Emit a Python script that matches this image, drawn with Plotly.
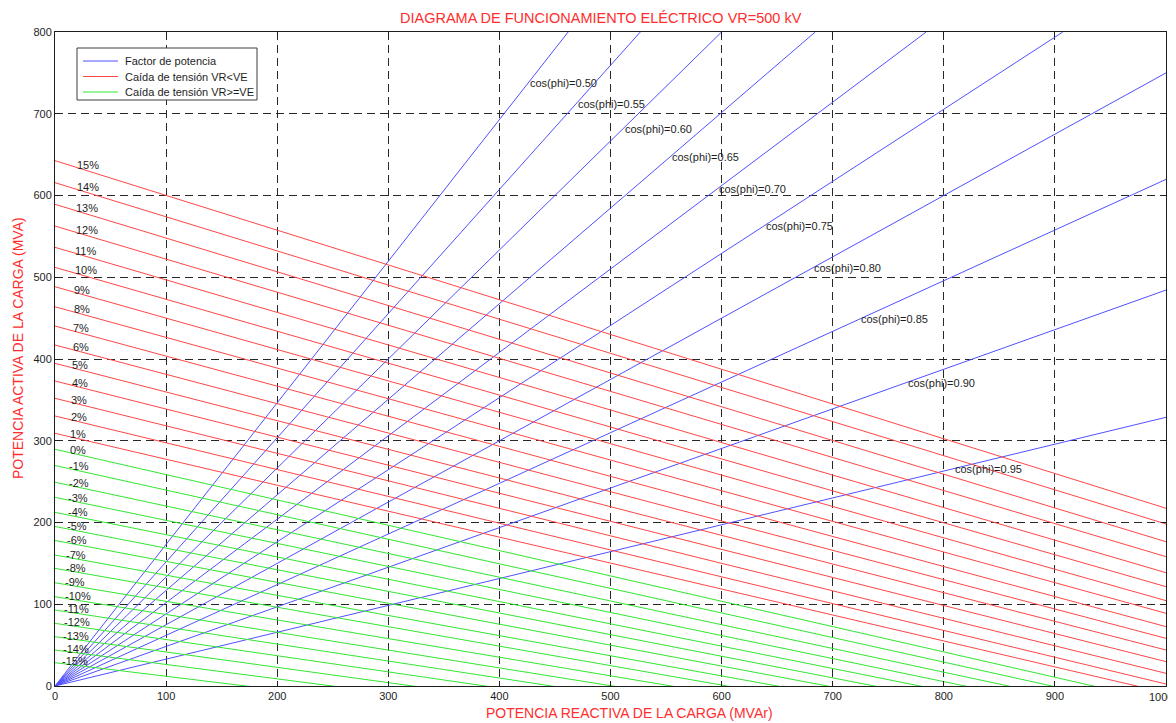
import numpy as np
import plotly.graph_objects as go

# ---------------- data ----------------
cos_phi = [0.50, 0.55, 0.60, 0.65, 0.70, 0.75, 0.80, 0.85, 0.90, 0.95]

drop_pct = [15, 14, 13, 12, 11, 10, 9, 8, 7, 6, 5, 4, 3, 2, 1, 0,
            -1, -2, -3, -4, -5, -6, -7, -8, -9, -10, -11, -12, -13, -14, -15]
# active power (MVA) of each voltage-drop line at Q = 0 MVAr
p_at_q0 = [642.6, 615.7, 589.2, 562.6, 536.6, 512.1, 488.4, 463.9, 440.3, 417.1,
           394.7, 373.1, 351.9, 330.3, 309.1, 289.6,
           269.7, 249.2, 230.8, 212.4, 195.1, 178.0, 160.2, 143.9, 126.3,
           109.2, 92.9, 76.6, 60.3, 44.0, 28.5]
# active power (MVA) of each voltage-drop line at Q = 1000 MVAr (extended below 0)
p_at_q1000 = [217.4, 198.2, 176.5, 158.2, 138.6, 121.5, 104.4, 88.9, 72.6, 58.3,
              44.0, 29.8, 15.5, 2.4, -8.4, -20.3,
              -30.9, -41.2, -51.0, -60.4, -69.4, -78.0, -86.2, -94.0, -101.4,
              -108.4, -115.0, -121.2, -127.0, -132.4, -137.4]

x_ticks = list(range(0, 1001, 100))
y_ticks = list(range(0, 801, 100))

title_text = "DIAGRAMA DE FUNCIONAMIENTO ELÉCTRICO VR=500 kV"
x_title = "POTENCIA REACTIVA DE LA CARGA (MVAr)"
y_title = "POTENCIA ACTIVA DE LA CARGA (MVA)"
legend_names = ["Factor de potencia", "Caída de tensión VR<VE", "Caída de tensión VR>=VE"]

# ---------------- styles ----------------
BLUE = "rgb(80,80,255)"
RED = "rgb(255,70,70)"
GREEN = "rgb(50,230,50)"
TXT = "rgb(30,30,30)"
TITLE_RED = "rgb(255,45,45)"
FONT = "Liberation Sans, Arial, sans-serif"
QMAX, PMAX = 1000, 800

# the page body has an 8 px margin, so the figure is drawn 8 px in from the corner
OFF = 8
PAGE_W, PAGE_H = 1176, 723
W, H = PAGE_W - OFF, PAGE_H - OFF
# plot area on the page: x 55..1166, y 32..686
ML, MT = 55 - OFF, 32 - OFF
MR, MB = W - (1166 - OFF), H - (686 - OFF)
PW, PH = W - ML - MR, H - MT - MB


def px2paper(px, py):
    """page pixel -> paper coordinates"""
    fx, fy = px - OFF, py - OFF
    return (fx - ML) / PW, (H - MB - fy) / PH


fig = go.Figure()

# power-factor lines (through origin)
bx, by = [], []
for c in cos_phi:
    t = np.tan(np.arccos(c))
    xe = min(QMAX, PMAX / t)
    bx += [0, xe, None]
    by += [0, xe * t, None]
fig.add_trace(go.Scatter(x=bx, y=by, mode="lines", name=legend_names[0],
                         line=dict(color=BLUE, width=1), showlegend=False))

# voltage-drop lines
rx, ry, gx, gy = [], [], [], []
for d, p0, p1 in zip(drop_pct, p_at_q0, p_at_q1000):
    if d > 0:
        rx += [0, QMAX, None]; ry += [p0, p1, None]
    else:
        gx += [0, QMAX, None]; gy += [p0, p1, None]
fig.add_trace(go.Scatter(x=rx, y=ry, mode="lines", name=legend_names[1],
                         line=dict(color=RED, width=1), showlegend=False))
fig.add_trace(go.Scatter(x=gx, y=gy, mode="lines", name=legend_names[2],
                         line=dict(color=GREEN, width=1), showlegend=False))

annotations = []
# percentage labels near the left axis
for d, p0, p1 in zip(drop_pct, p_at_q0, p_at_q1000):
    xl = 18.0 - (15 - d) * 0.45
    yl = p0 + (p1 - p0) * xl / QMAX
    annotations.append(dict(x=xl, y=yl, text=f"{d}%", showarrow=False,
                            xanchor="left", yanchor="middle", yshift=2,
                            font=dict(size=11, color=TXT, family=FONT)))

# power-factor labels
for k, c in enumerate(cos_phi):
    t = np.tan(np.arccos(c))
    xl = 426.0 + 42.5 * k
    annotations.append(dict(x=xl, y=xl * t, text=f"cos(phi)={c:.2f}", showarrow=False,
                            xanchor="left", yanchor="middle",
                            font=dict(size=11, color=TXT, family=FONT)))

# last x tick label (kept inside the page)
tx, ty = px2paper(1175, 697)
annotations.append(dict(x=tx, y=ty, xref="paper", yref="paper", xanchor="right",
                        yanchor="middle", text=str(x_ticks[-1]), showarrow=False,
                        font=dict(size=11, color=TXT, family=FONT)))

# title and axis titles
tx, ty = px2paper(601, 17.5)
annotations.append(dict(x=tx, y=ty, xref="paper", yref="paper", xanchor="center",
                        yanchor="middle", text=title_text, showarrow=False,
                        font=dict(size=14.5, color=TITLE_RED, family=FONT)))
tx, ty = px2paper(629, 713)
annotations.append(dict(x=tx, y=ty, xref="paper", yref="paper", xanchor="center",
                        yanchor="middle", text=x_title, showarrow=False,
                        font=dict(size=14, color=TITLE_RED, family=FONT)))
tx, ty = px2paper(18, 348)
annotations.append(dict(x=tx, y=ty, xref="paper", yref="paper", xanchor="center",
                        yanchor="middle", text=y_title, showarrow=False, textangle=-90,
                        font=dict(size=14, color=TITLE_RED, family=FONT)))

# custom legend (box, line samples, labels)
shapes = []
x0, y0 = px2paper(77, 48)
x1, y1 = px2paper(257, 100)
shapes.append(dict(type="rect", xref="paper", yref="paper", x0=x0, y0=y0, x1=x1, y1=y1,
                   line=dict(color="rgb(60,60,60)", width=1), fillcolor="white",
                   layer="above"))
for name, col, py in zip(legend_names, [BLUE, RED, GREEN], [61, 76.5, 92]):
    lx0, ly = px2paper(83, py)
    lx1, _ = px2paper(118, py)
    shapes.append(dict(type="line", xref="paper", yref="paper", x0=lx0, x1=lx1,
                       y0=ly, y1=ly, line=dict(color=col, width=1), layer="above"))
    ax, _ = px2paper(123, py)
    annotations.append(dict(x=ax, y=ly, xref="paper", yref="paper", xanchor="left",
                            yanchor="middle", text=name, showarrow=False,
                            font=dict(size=11, color=TXT, family=FONT)))

fig.update_layout(
    width=W, height=H,
    margin=dict(l=ML, r=MR, t=MT, b=MB, autoexpand=False),
    paper_bgcolor="white", plot_bgcolor="white",
    showlegend=False,
    annotations=annotations,
    shapes=shapes,
)
axis_common = dict(
    showline=True, linecolor="rgb(30,30,30)", linewidth=1, mirror="ticks",
    ticks="inside", ticklen=5, tickcolor="rgb(30,30,30)",
    showgrid=True, gridcolor="rgb(40,40,40)", gridwidth=1, griddash="8px,5px",
    zeroline=False, automargin=False,
    tickfont=dict(size=11, color=TXT, family=FONT),
)
fig.update_xaxes(range=[0, QMAX], tickvals=x_ticks[:-1],
                 ticktext=[str(v) for v in x_ticks[:-1]], **axis_common)
fig.update_yaxes(range=[0, PMAX], tickvals=y_ticks, ticktext=[str(v) for v in y_ticks],
                 **axis_common)

fig.write_html("out.html")
